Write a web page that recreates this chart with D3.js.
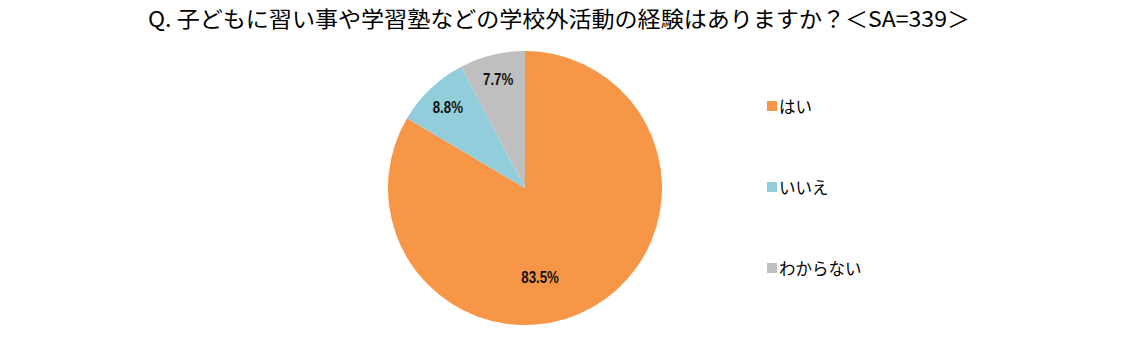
<!DOCTYPE html>
<html lang="ja">
<head>
<meta charset="UTF-8">
<title>学校外活動の経験</title>
<script src="https://d3js.org/d3.v7.min.js"></script>
<style>
body{margin:0;background:#fff}
svg{display:block}
.title{font-family:"Noto Sans CJK JP",sans-serif;font-size:22px;fill:#000}
.lbl{font-family:"Liberation Sans",sans-serif;font-weight:bold;font-size:17px;fill:#111}
.leg{font-family:"Noto Sans CJK JP",sans-serif;font-size:16.5px;fill:#000}
</style>
</head>
<body>
<svg id="chart" width="1126" height="340"></svg>
<script>
// data
var categories = ['はい', 'いいえ', 'わからない'];
var values = [83.5, 8.8, 7.7];
var colors = ['#F79646', '#92CDDC', '#BFBFBF'];
var titleText = 'Q. 子どもに習い事や学習塾などの学校外活動の経験はありますか？＜SA=339＞';

// layout
var cx = 525, cy = 188, R = 137;
// label placement (radius and angle tweak per slice, mimicking Excel best fit)
var labelRadius = [90, 112, 112];
var labelAngleShift = [0.35, 0, 0];

var svg = d3.select('#chart');

var title = svg.append('text').attr('class', 'title')
  .attr('x', 559).attr('y', 27)
  .attr('text-anchor', 'middle')
  .text(titleText);
// stretch title to the reference width
var tw = title.node().getComputedTextLength();
title.attr('textLength', 822).attr('lengthAdjust', 'spacingAndGlyphs');

var pie = d3.pie().sort(null).value(function(d) { return d; });
var arcs = pie(values);
var arc = d3.arc().innerRadius(0).outerRadius(R);

var g = svg.append('g').attr('transform', 'translate(' + cx + ',' + cy + ')');

g.selectAll('path.slice').data(arcs).join('path')
  .attr('class', 'slice')
  .attr('d', arc)
  .attr('fill', function(d, i) { return colors[i]; });

g.selectAll('text.lbl').data(arcs).join('text')
  .attr('class', 'lbl')
  .attr('text-anchor', 'middle')
  .attr('dominant-baseline', 'central')
  .attr('transform', function(d, i) {
    var a = (d.startAngle + d.endAngle) / 2 + labelAngleShift[i];
    var x = Math.sin(a) * labelRadius[i], y = -Math.cos(a) * labelRadius[i];
    return 'translate(' + x + ',' + y + ') scale(0.78,1)';
  })
  .text(function(d) { return d.data.toFixed(1) + '%'; });

// legend
var legendY = d3.scalePoint().domain(categories).range([106, 268]);
var leg = svg.append('g').selectAll('g').data(categories).join('g')
  .attr('transform', function(d) { return 'translate(767,' + legendY(d) + ')'; });
leg.append('rect').attr('x', 0).attr('y', -5).attr('width', 10).attr('height', 10)
  .attr('fill', function(d, i) { return colors[i]; });
leg.append('text').attr('class', 'leg')
  .attr('x', 12).attr('y', 0).attr('dominant-baseline', 'central')
  .text(function(d) { return d; });
</script>
</body>
</html>
